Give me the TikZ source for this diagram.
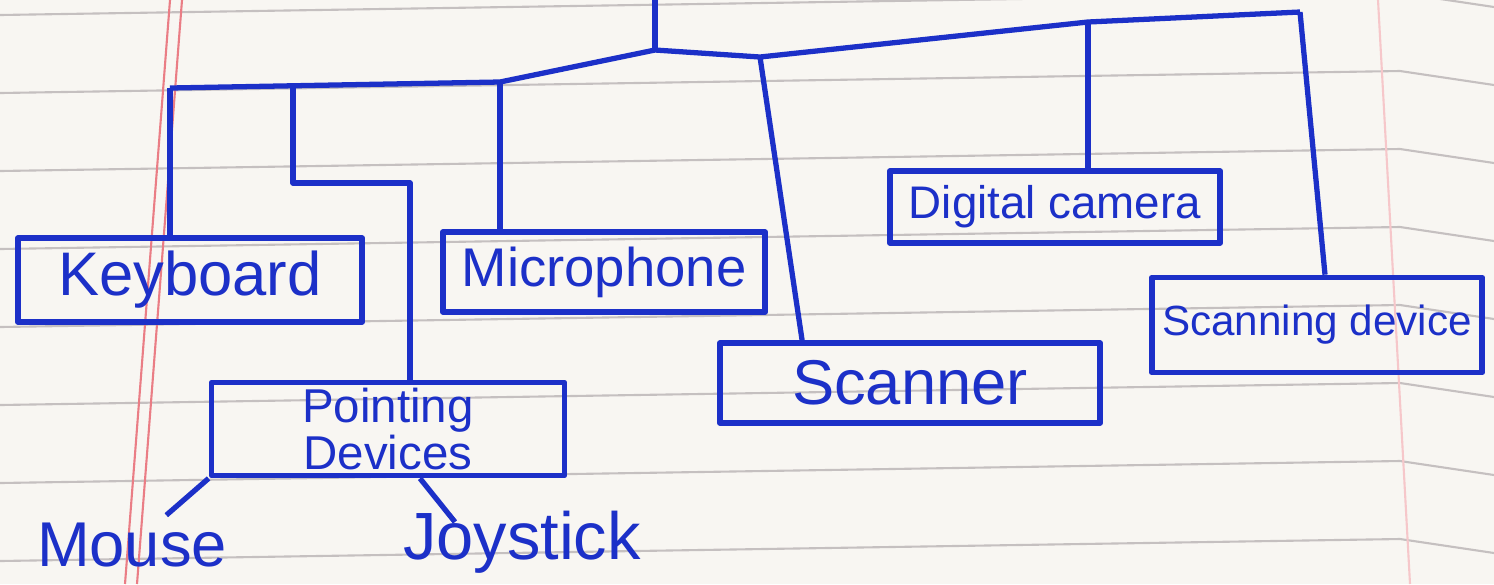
\documentclass[tikz,border=0pt]{standalone}
\usepackage{fontspec}
\setmainfont{Liberation Sans}
\usetikzlibrary{positioning,calc}
\definecolor{ink}{RGB}{28,48,200}
\definecolor{paper}{RGB}{248,246,242}
\definecolor{ruling}{RGB}{150,140,140}
\definecolor{margin}{RGB}{225,70,80}

\begin{document}
\begin{tikzpicture}[x=0.01cm, y=-0.01cm, line join=round,
  wire/.style={ink, line width=1.5pt},
  box/.style={draw=ink, line width=1.6pt, text=ink, inner sep=0pt, align=center,
    font=\fontsize{16}{18}\selectfont},
  leaf/.style={text=ink, inner sep=2pt, font=\fontsize{18}{20}\selectfont}]
\useasboundingbox[fill=paper] (0,0) rectangle (1494,584);
% ruled paper
\foreach \y in {15,93,171,249,327,405,483,561}
  \draw[ruling!55, line width=0.6pt] (0,\y) -- (1400,\y-22) -- (1494,\y-8);
\draw[margin!70, line width=0.6pt] (170,0) -- (125,584) (182,0) -- (137,584);
\draw[margin!30, line width=0.6pt] (1378,0) -- (1410,584);
% bus
\coordinate (top) at (655,0);
\coordinate (b1) at (170,88);
\coordinate (b2) at (293,86);
\coordinate (b3) at (500,82);
\coordinate (b4) at (655,50);
\coordinate (b5) at (760,57);
\coordinate (b6) at (1088,22);
\coordinate (b7) at (1300,12);
\coordinate (k1) at (410,183);
% boxes
\node[box, minimum width=3.44cm, minimum height=0.84cm, font=\fontsize{17.5}{20}\selectfont] (kbd) at (190,280) {Keyboard};
\node[box, minimum width=3.53cm, minimum height=0.88cm, inner ysep=1.5pt, font=\fontsize{13.5}{12.5}\selectfont] (pnt) at (388,429) {Pointing\\Devices};
\node[box, minimum width=3.22cm, minimum height=0.80cm, font=\fontsize{15.5}{18}\selectfont] (mic) at (604,272) {Microphone};
\node[box, minimum width=3.80cm, minimum height=0.80cm, font=\fontsize{18}{20}\selectfont] (scn) at (910,383) {Scanner};
\node[box, minimum width=3.30cm, minimum height=0.72cm, font=\fontsize{13}{15}\selectfont] (cam) at (1055,207) {Digital camera};
\node[box, minimum width=3.30cm, minimum height=0.95cm, font=\fontsize{12}{14}\selectfont] (sdev) at (1317,325) {Scanning device};
\node[leaf] (mouse) at (132,545) {Mouse};
\node[leaf, font=\fontsize{19}{21}\selectfont] (joy) at (522,542) {Joystick};
\coordinate (j0) at ($(pnt.south)+(32,0)$);
\coordinate (j1) at (455,522);
% connectors
\draw[wire] (top) -- (b4);
\draw[wire] (b1) -- (b3) -- (b4) -- (b5) -- (b6) -- (b7);
\draw[wire] (b1) -- (b1 |- kbd.north);
\draw[wire] (b2) |- (k1) -- (k1 |- pnt.north);
\draw[wire] (b3) -- (b3 |- mic.north);
\draw[wire] (b5) -- ($(scn.north west)+(85,0)$);
\draw[wire] (b6) -- (b6 |- cam.north);
\draw[wire] (b7) -- ($(sdev.north)+(8,0)$);
\draw[wire] (pnt.south west) -- (mouse);
\draw[wire] (j0) -- (j1);
\end{tikzpicture}
\end{document}
